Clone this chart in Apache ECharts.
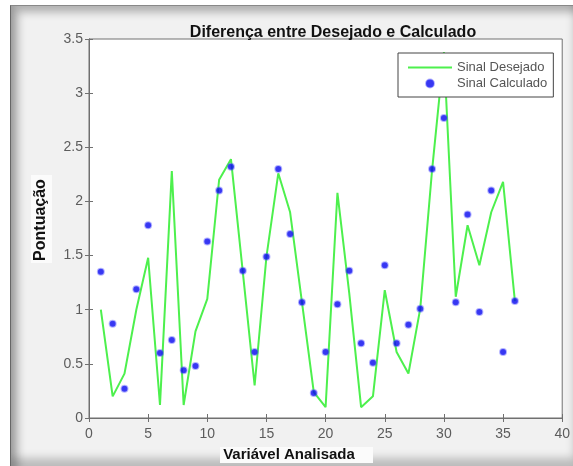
<!DOCTYPE html>
<html>
<head>
<meta charset="utf-8">
<script src="https://cdn.jsdelivr.net/npm/echarts@6/dist/echarts.min.js"></script>
<style>
  html, body { margin: 0; padding: 0; background: #fff; }
  #frame {
    position: absolute; left: 10px; top: 5px; width: 563px; height: 461px;
    background: #f1f1f1;
    border-left: 1px solid #666; border-top: 1px solid #888;
    box-shadow: inset 7px 6px 8px rgba(0,0,0,0.28), inset 0 -9px 8px rgba(0,0,0,0.22);
  }
  #chart { position: absolute; left: 0; top: 0; width: 573px; height: 466px; }
</style>
</head>
<body>
<div id="frame"></div>
<div id="chart"></div>
<script>
// x positions (variable index)
const indices = [1, 2, 3, 4, 5, 6, 7, 8, 9, 10, 11, 12, 13, 14, 15, 16, 17, 18,
  19, 20, 21, 22, 23, 24, 25, 26, 27, 28, 29, 30, 31, 32, 33, 34, 35, 36];

// Sinal Desejado (green line)
const desejado = [1.0, 0.2, 0.41, 1.0, 1.48, 0.12, 2.28, 0.12, 0.8, 1.1, 2.2, 2.39,
  1.35, 0.3, 1.49, 2.26, 1.9, 1.07, 0.24, 0.1, 2.08, 1.15, 0.1, 0.2,
  1.18, 0.61, 0.41, 1.01, 2.29, 3.38, 1.12, 1.78, 1.41, 1.9, 2.18, 1.08];

// Sinal Calculado (blue stars)
const calculado = [1.35, 0.87, 0.27, 1.19, 1.78, 0.6, 0.72, 0.44, 0.48, 1.63, 2.1, 2.32,
  1.36, 0.61, 1.49, 2.3, 1.7, 1.07, 0.23, 0.61, 1.05, 1.36, 0.69, 0.51,
  1.41, 0.69, 0.86, 1.01, 2.3, 2.77, 1.07, 1.88, 0.98, 2.1, 0.61, 1.08];

const xTicks = [0, 40, 5];    // min, max, step
const yTicks = [0, 3.5, 0.5];

const chart = echarts.init(document.getElementById('chart'), null, { renderer: 'canvas' });

const font = 'Liberation Sans, Arial, sans-serif';
const frameColor = '#707070';
const tickText = '#5c5c5c';

const hiddenAxis = {
  axisLabel: { show: false },
  axisLine: { show: true, lineStyle: { color: frameColor } },
  axisTick: { show: true, inside: true, length: 4, lineStyle: { color: frameColor } },
  splitLine: { show: false },
};

const options = {
  backgroundColor: 'transparent',
  animation: false,
  textStyle: { fontFamily: font },
  title: {
    text: 'Diferença entre Desejado e Calculado',
    left: 328,
    top: 20,
    textAlign: 'center',
    textStyle: { fontSize: 16, fontWeight: 'bold', color: '#111', fontFamily: font },
  },
  grid: {
    left: 89, right: 6, top: 39, bottom: 48,
    show: true, backgroundColor: '#fff', borderColor: frameColor, borderWidth: 1,
  },
  xAxis: [
    {
      type: 'value', min: xTicks[0], max: xTicks[1], interval: xTicks[2],
      axisLine: { show: true, lineStyle: { color: frameColor } },
      axisTick: { show: true, inside: true, length: 4, lineStyle: { color: frameColor } },
      axisLabel: { color: tickText, fontSize: 14, margin: 9, fontFamily: font },
      splitLine: { show: false },
    },
    Object.assign({ type: 'value', position: 'top', min: xTicks[0], max: xTicks[1], interval: xTicks[2] }, hiddenAxis),
  ],
  yAxis: [
    {
      type: 'value', min: yTicks[0], max: yTicks[1], interval: yTicks[2],
      axisLine: { show: true, lineStyle: { color: frameColor } },
      axisTick: { show: true, inside: true, length: 4, lineStyle: { color: frameColor } },
      axisLabel: { color: tickText, fontSize: 14, margin: 6, fontFamily: font },
      splitLine: { show: false },
    },
    Object.assign({ type: 'value', position: 'right', min: yTicks[0], max: yTicks[1], interval: yTicks[2] }, hiddenAxis),
  ],
  legend: {
    orient: 'vertical',
    left: 398,
    top: 53,
    padding: [8, 6, 7, 10],
    itemGap: 3,
    itemWidth: 44,
    itemHeight: 8,
    backgroundColor: '#fff',
    borderColor: '#444',
    borderWidth: 1,
    borderRadius: 0,
    textStyle: { color: '#555', fontSize: 13, fontFamily: font },
    data: [
      { name: 'Sinal Desejado', icon: 'path://M0,0 L44,0 L44,2 L0,2 Z' },
      { name: 'Sinal Calculado', icon: 'circle' },
    ],
  },
  series: [
    {
      name: 'Sinal Desejado',
      type: 'line',
      data: indices.map((x, i) => [x, desejado[i]]),
      symbol: 'none',
      lineStyle: { color: '#4df04d', width: 2 },
      itemStyle: { color: '#4df04d' },
      z: 2,
    },
    {
      name: 'Sinal Calculado',
      type: 'scatter',
      data: indices.map((x, i) => [x, calculado[i]]),
      symbol: 'circle',
      symbolSize: 6,
      itemStyle: { color: '#0505ee', borderColor: 'rgba(70,70,255,0.5)', borderWidth: 2 },
      z: 3,
    },
  ],
  graphic: [
    {
      type: 'rect', left: 220, top: 447, shape: { width: 153, height: 16 },
      style: { fill: '#fbfbfb' }, silent: true,
    },
    {
      type: 'text', x: 289, y: 455,
      style: {
        text: 'Variável Analisada', fill: '#111', font: 'bold 15px ' + font,
        textAlign: 'center', textVerticalAlign: 'middle',
      },
    },
    {
      type: 'rect', left: 31, top: 175, shape: { width: 21, height: 88 },
      style: { fill: '#fbfbfb' }, silent: true,
    },
    {
      type: 'text', x: 41, y: 220, rotation: Math.PI / 2,
      style: {
        text: 'Pontuação', fill: '#111', font: 'bold 16px ' + font,
        textAlign: 'center', textVerticalAlign: 'middle',
      },
    },
  ],
};

options && chart.setOption(options);
</script>
</body>
</html>
